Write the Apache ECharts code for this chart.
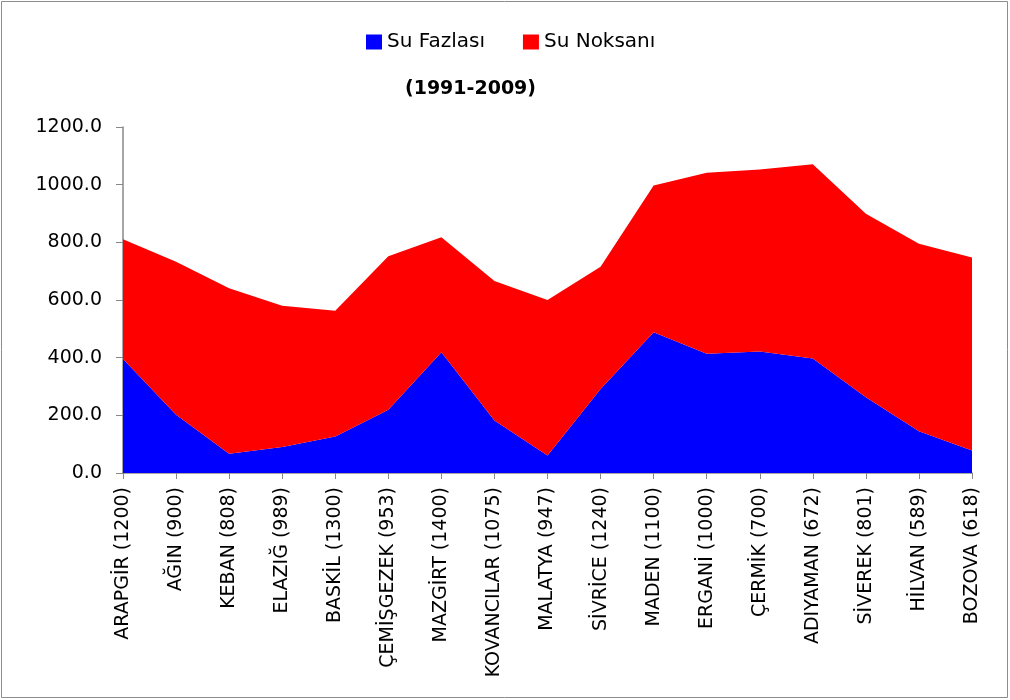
<!DOCTYPE html>
<html><head><meta charset="utf-8">
<script src="https://cdn.jsdelivr.net/npm/echarts@6/dist/echarts.min.js"></script>
<style>html,body{margin:0;padding:0;background:#fff}#c{width:1010px;height:700px}</style>
</head><body><div id="c"></div>
<script>
const categories = ['ARAPGİR (1200)','AĞIN (900)','KEBAN (808)','ELAZIĞ (989)','BASKİL (1300)','ÇEMİŞGEZEK (953)','MAZGİRT (1400)','KOVANCILAR (1075)','MALATYA (947)','SİVRİCE (1240)','MADEN (1100)','ERGANİ (1000)','ÇERMİK (700)','ADIYAMAN (672)','SİVEREK (801)','HİLVAN (589)','BOZOVA (618)'];
const suFazlasi = [395, 202, 67, 90, 127, 219, 419, 182, 61, 291, 488, 414, 421, 397, 263, 145, 78];
const suNoksani = [416, 531, 574, 490, 436, 533, 399, 484, 539, 424, 509, 627, 632, 674, 636, 650, 669];
const yTicks = [0, 200, 400, 600, 800, 1000, 1200];

const font = '"DejaVu Sans", sans-serif';
const chart = echarts.init(document.getElementById('c'));
chart.setOption({
  animation: false,
  backgroundColor: '#fff',
  graphic: [{type:'rect', shape:{x:1.5,y:1.5,width:1006,height:696}, style:{fill:'none', stroke:'#8c8c8c', lineWidth:1}}],
  title: {
    text: '(1991-2009)', left: 405, top: 80, padding: 0,
    textStyle: {fontFamily: font, fontSize: 19, fontWeight: 'bold', color: '#000'}
  },
  legend: {
    data: ['Su Fazlası','Su Noksanı'], left: 366, top: 32, icon: 'rect', padding: 0,
    itemWidth: 16, itemHeight: 15, itemGap: 38,
    textStyle: {fontFamily: font, fontSize: 20, color: '#000'}
  },
  grid: {left: 123, right: 38, top: 127, bottom: 227, containLabel: false},
  xAxis: {
    type: 'category', data: categories, boundaryGap: false,
    axisLine: {lineStyle: {color: '#888', width: 1.5}},
    axisTick: {show: true, alignWithLabel: true, length: 6, lineStyle: {color: '#888'}},
    axisLabel: {rotate: 90, interval: 0, fontFamily: font, fontSize: 19, color: '#000', margin: 14}
  },
  yAxis: {
    type: 'value', min: 0, max: 1200, interval: 200,
    axisLine: {show: true, lineStyle: {color: '#888', width: 1.5}},
    axisTick: {show: true, length: 7, lineStyle: {color: '#888'}},
    splitLine: {show: false},
    axisLabel: {fontFamily: font, fontSize: 19, color: '#000', margin: 21,
      formatter: v => yTicks.includes(v) ? v.toFixed(1) : ''}
  },
  series: [
    {name: 'Su Fazlası', type: 'line', stack: 't', data: suFazlasi, symbol: 'none',
     lineStyle: {width: 0}, areaStyle: {color: '#0000FF', opacity: 1}, itemStyle: {color: '#0000FF'}},
    {name: 'Su Noksanı', type: 'line', stack: 't', data: suNoksani, symbol: 'none',
     lineStyle: {width: 0}, areaStyle: {color: '#FF0000', opacity: 1}, itemStyle: {color: '#FF0000'}}
  ]
});
</script></body></html>
